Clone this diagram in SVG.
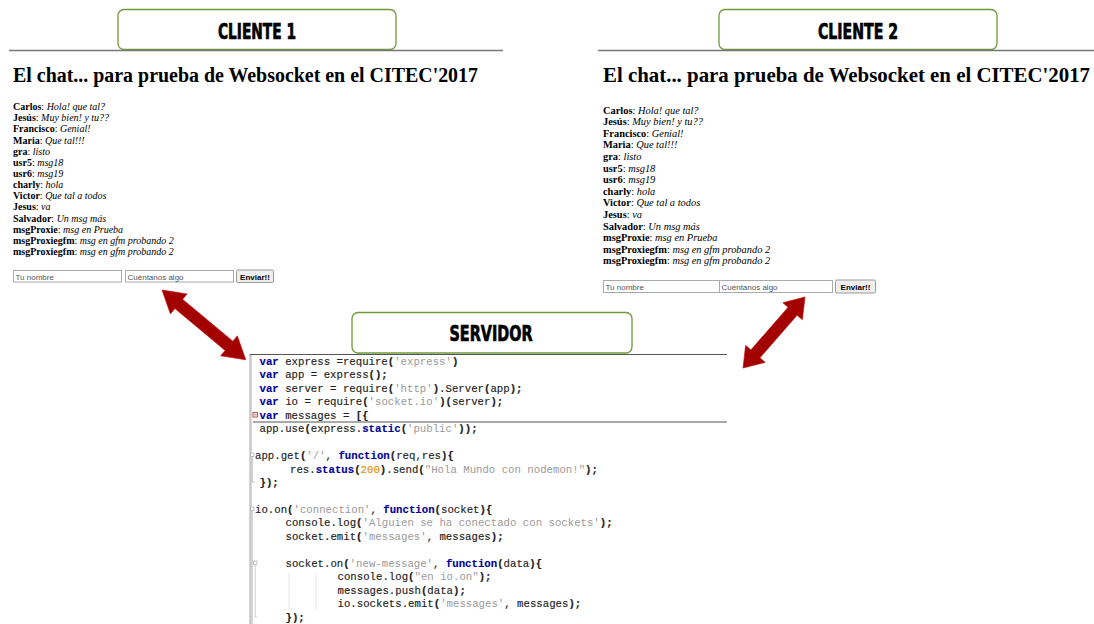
<svg xmlns="http://www.w3.org/2000/svg" width="1094" height="624" viewBox="0 0 1094 624">
  <style>
    .hdr { fill: #fff; stroke: #6f9a3a; stroke-width: 1.3; }
    .hdrtxt { font-family: "DejaVu Sans Condensed", "Liberation Sans Narrow", sans-serif; font-weight: bold; font-size: 22px; fill: #000; stroke: #000; stroke-width: 0.7; text-anchor: middle; }
    .rule { stroke: #777; stroke-width: 1.4; }
    .title { font-family: "Liberation Serif", serif; font-weight: bold; fill: #000; }
    .chat { font-family: "Liberation Serif", serif; fill: #000; }
    .n { font-weight: bold; }
    .m { font-style: italic; }
    .inp { fill: #fff; stroke: #aaa; stroke-width: 1; }
    .btn { fill: #eee; stroke: #999; stroke-width: 1; }
    .ph { font-family: "Liberation Sans", Arial, sans-serif; font-size: 8px; fill: #555; }
    .bt { font-family: "Liberation Sans", Arial, sans-serif; font-size: 8px; font-weight: bold; fill: #000; }
    .code { font-family: "Liberation Mono", "Courier New", monospace; font-size: 10.7px; fill: #222; stroke: #222; stroke-width: 0.15; }
    .k { fill: #000099; stroke: #000099; font-weight: bold; }
    .s { fill: #9a9a9a; stroke: none; }
    .num { fill: #e09000; stroke: #e09000; }
    .p { font-weight: bold; }
    .arrow { fill: #a30000; stroke: #c21010; stroke-width: 0.6; }
  </style>
  <defs>
    <!-- double-headed block arrow along +x, length 100 -->
    <path id="dbl" d="M0,0 L20,-13 L20,-6 L80,-6 L80,-13 L100,0 L80,13 L80,6 L20,6 L20,13 Z"/>
  </defs>

  <rect width="1094" height="624" fill="#fff"/>

  <!-- Client 1 -->
  <g id="cliente1">
    <rect class="hdr" x="118" y="9.5" width="278" height="40" rx="6"/>
    <text class="hdrtxt" x="257" y="39" textLength="78" lengthAdjust="spacingAndGlyphs">CLIENTE 1</text>
    <line class="rule" x1="9" y1="50.5" x2="503" y2="50.5"/>
    <text class="title" x="13" y="82" font-size="20" textLength="465" lengthAdjust="spacingAndGlyphs">El chat... para prueba de Websocket en el CITEC'2017</text>
    <g class="chat" font-size="10">
      <text x="13" y="110"><tspan class="n">Carlos</tspan>: <tspan class="m">Hola! que tal?</tspan></text>
      <text x="13" y="121.2"><tspan class="n">Jesús</tspan>: <tspan class="m">Muy bien! y tu??</tspan></text>
      <text x="13" y="132.3"><tspan class="n">Francisco</tspan>: <tspan class="m">Genial!</tspan></text>
      <text x="13" y="143.5"><tspan class="n">Maria</tspan>: <tspan class="m">Que tal!!!</tspan></text>
      <text x="13" y="154.6"><tspan class="n">gra</tspan>: <tspan class="m">listo</tspan></text>
      <text x="13" y="165.8"><tspan class="n">usr5</tspan>: <tspan class="m">msg18</tspan></text>
      <text x="13" y="176.9"><tspan class="n">usr6</tspan>: <tspan class="m">msg19</tspan></text>
      <text x="13" y="188.1"><tspan class="n">charly</tspan>: <tspan class="m">hola</tspan></text>
      <text x="13" y="199.2"><tspan class="n">Victor</tspan>: <tspan class="m">Que tal a todos</tspan></text>
      <text x="13" y="210.4"><tspan class="n">Jesus</tspan>: <tspan class="m">va</tspan></text>
      <text x="13" y="221.5"><tspan class="n">Salvador</tspan>: <tspan class="m">Un msg más</tspan></text>
      <text x="13" y="232.7"><tspan class="n">msgProxie</tspan>: <tspan class="m">msg en Prueba</tspan></text>
      <text x="13" y="243.8"><tspan class="n">msgProxiegfm</tspan>: <tspan class="m">msg en gfm probando 2</tspan></text>
      <text x="13" y="255"><tspan class="n">msgProxiegfm</tspan>: <tspan class="m">msg en gfm probando 2</tspan></text>
    </g>
    <rect class="inp" x="13.5" y="270.5" width="108" height="11.5"/>
    <text class="ph" x="15.5" y="279.5">Tu nombre</text>
    <rect class="inp" x="125.5" y="270.5" width="108" height="11.5"/>
    <text class="ph" x="127.5" y="279.5">Cuéntanos algo</text>
    <rect class="btn" x="236.5" y="270" width="37" height="12.5" rx="1.5"/>
    <text class="bt" x="255" y="279.5" text-anchor="middle">Enviar!!</text>
  </g>

  <!-- Client 2 -->
  <g id="cliente2">
    <rect class="hdr" x="719" y="9.5" width="278" height="40" rx="6"/>
    <text class="hdrtxt" x="858" y="39" textLength="80" lengthAdjust="spacingAndGlyphs">CLIENTE 2</text>
    <line class="rule" x1="598" y1="50.5" x2="1094" y2="50.5"/>
    <text class="title" x="603" y="82" font-size="21" textLength="487" lengthAdjust="spacingAndGlyphs">El chat... para prueba de Websocket en el CITEC'2017</text>
    <g class="chat" font-size="10.4">
      <text x="603" y="113.5"><tspan class="n">Carlos</tspan>: <tspan class="m">Hola! que tal?</tspan></text>
      <text x="603" y="125.1"><tspan class="n">Jesús</tspan>: <tspan class="m">Muy bien! y tu??</tspan></text>
      <text x="603" y="136.7"><tspan class="n">Francisco</tspan>: <tspan class="m">Genial!</tspan></text>
      <text x="603" y="148.3"><tspan class="n">Maria</tspan>: <tspan class="m">Que tal!!!</tspan></text>
      <text x="603" y="159.9"><tspan class="n">gra</tspan>: <tspan class="m">listo</tspan></text>
      <text x="603" y="171.5"><tspan class="n">usr5</tspan>: <tspan class="m">msg18</tspan></text>
      <text x="603" y="183.1"><tspan class="n">usr6</tspan>: <tspan class="m">msg19</tspan></text>
      <text x="603" y="194.7"><tspan class="n">charly</tspan>: <tspan class="m">hola</tspan></text>
      <text x="603" y="206.3"><tspan class="n">Victor</tspan>: <tspan class="m">Que tal a todos</tspan></text>
      <text x="603" y="217.9"><tspan class="n">Jesus</tspan>: <tspan class="m">va</tspan></text>
      <text x="603" y="229.5"><tspan class="n">Salvador</tspan>: <tspan class="m">Un msg más</tspan></text>
      <text x="603" y="241.1"><tspan class="n">msgProxie</tspan>: <tspan class="m">msg en Prueba</tspan></text>
      <text x="603" y="252.7"><tspan class="n">msgProxiegfm</tspan>: <tspan class="m">msg en gfm probando 2</tspan></text>
      <text x="603" y="264.3"><tspan class="n">msgProxiegfm</tspan>: <tspan class="m">msg en gfm probando 2</tspan></text>
    </g>
    <rect class="inp" x="603.5" y="280.5" width="118" height="12"/>
    <text class="ph" x="605.5" y="290" font-size="8.4">Tu nombre</text>
    <rect class="inp" x="719.5" y="280.5" width="113" height="12"/>
    <text class="ph" x="721.5" y="290" font-size="8.4">Cuéntanos algo</text>
    <rect class="btn" x="835.5" y="280" width="40" height="13" rx="1.5"/>
    <text class="bt" x="855.5" y="290" font-size="8.4" text-anchor="middle">Enviar!!</text>
  </g>

  <!-- Server -->
  <g id="servidor">
    <rect class="hdr" x="352" y="312.5" width="280" height="40.5" rx="6"/>
    <text class="hdrtxt" x="491" y="341" textLength="83" lengthAdjust="spacingAndGlyphs">SERVIDOR</text>

    <!-- editor frame: gutter and separators -->
    <line x1="250.5" y1="354" x2="250.5" y2="624" stroke="#c8c8c8" stroke-width="2.5"/>
    <line x1="250" y1="354.5" x2="727" y2="354.5" stroke="#555" stroke-width="1"/>
    <line x1="253" y1="422" x2="727" y2="422" stroke="#555" stroke-width="1"/>

    <!-- fold markers and guides -->
    <rect x="253" y="412.5" width="4.5" height="4.5" fill="#fff" stroke="#c04040" stroke-width="0.9"/>
    <line x1="253.8" y1="414.8" x2="256.8" y2="414.8" stroke="#c04040" stroke-width="0.8"/>
    <rect x="250.5" y="453" width="3.5" height="3.5" fill="#fff" stroke="#aaa" stroke-width="0.7"/>
    <path d="M252.3,457 V482 H255" fill="none" stroke="#aaa" stroke-width="0.7"/>
    <rect x="250.5" y="507" width="3.5" height="3.5" fill="#fff" stroke="#aaa" stroke-width="0.7"/>
    <line x1="252.3" y1="511" x2="252.3" y2="624" stroke="#bbb" stroke-width="0.7"/>
    <rect x="253.5" y="561" width="3.5" height="3.5" fill="#fff" stroke="#aaa" stroke-width="0.7"/>
    <path d="M255.3,565 V617 H257" fill="none" stroke="#bbb" stroke-width="0.7"/>
    <line x1="289" y1="573" x2="289" y2="610" stroke="#ddd" stroke-width="0.8"/>
    <line x1="316" y1="573" x2="316" y2="610" stroke="#ddd" stroke-width="0.8"/>

    <g class="code">
      <text x="259.5" y="365"><tspan class="k">var</tspan> express =require<tspan class="p">(</tspan><tspan class="s">'express'</tspan><tspan class="p">)</tspan></text>
      <text x="259.5" y="378.4"><tspan class="k">var</tspan> app = express<tspan class="p">();</tspan></text>
      <text x="259.5" y="391.9"><tspan class="k">var</tspan> server = require<tspan class="p">(</tspan><tspan class="s">'http'</tspan><tspan class="p">)</tspan>.Server<tspan class="p">(</tspan>app<tspan class="p">);</tspan></text>
      <text x="259.5" y="405.3"><tspan class="k">var</tspan> io = require<tspan class="p">(</tspan><tspan class="s">'socket.io'</tspan><tspan class="p">)(</tspan>server<tspan class="p">);</tspan></text>
      <text x="259.5" y="418.8"><tspan class="k">var</tspan> messages = <tspan class="p">[{</tspan></text>
      <text x="259.5" y="432.2">app.use<tspan class="p">(</tspan>express.<tspan class="k">static</tspan><tspan class="p">(</tspan><tspan class="s">'public'</tspan><tspan class="p">));</tspan></text>

      <text x="255" y="459.1">app.get<tspan class="p">(</tspan><tspan class="s">'/'</tspan>, <tspan class="k">function</tspan><tspan class="p">(</tspan>req,res<tspan class="p">){</tspan></text>
      <text x="290" y="472.6">res.<tspan class="k">status</tspan><tspan class="p">(</tspan><tspan class="num">200</tspan><tspan class="p">)</tspan>.send<tspan class="p">(</tspan><tspan class="s">"Hola Mundo con nodemon!"</tspan><tspan class="p">);</tspan></text>
      <text x="259.5" y="486"><tspan class="p">});</tspan></text>

      <text x="255" y="512.9">io.on<tspan class="p">(</tspan><tspan class="s">'connection'</tspan>, <tspan class="k">function</tspan><tspan class="p">(</tspan>socket<tspan class="p">){</tspan></text>
      <text x="285.5" y="526.4">console.log<tspan class="p">(</tspan><tspan class="s">'Alguien se ha conectado con sockets'</tspan><tspan class="p">);</tspan></text>
      <text x="285.5" y="539.8">socket.emit<tspan class="p">(</tspan><tspan class="s">'messages'</tspan>, messages<tspan class="p">);</tspan></text>

      <text x="285.5" y="566.7">socket.on<tspan class="p">(</tspan><tspan class="s">'new-message'</tspan>, <tspan class="k">function</tspan><tspan class="p">(</tspan>data<tspan class="p">){</tspan></text>
      <text x="337.5" y="580.2">console.log<tspan class="p">(</tspan><tspan class="s">"en io.on"</tspan><tspan class="p">);</tspan></text>
      <text x="337.5" y="593.6">messages.push<tspan class="p">(</tspan>data<tspan class="p">);</tspan></text>
      <text x="337.5" y="607.1">io.sockets.emit<tspan class="p">(</tspan><tspan class="s">'messages'</tspan>, messages<tspan class="p">);</tspan></text>
      <text x="285.5" y="620.5"><tspan class="p">});</tspan></text>
    </g>
  </g>

  <!-- Connectors: bidirectional links client <-> server -->
  <g id="connectors">
    <use href="#dbl" class="arrow" transform="translate(162,290) rotate(39.8) scale(1.09,1)"/>
    <use href="#dbl" class="arrow" transform="translate(805,297) rotate(131.1) scale(0.943,1)"/>
  </g>
</svg>
